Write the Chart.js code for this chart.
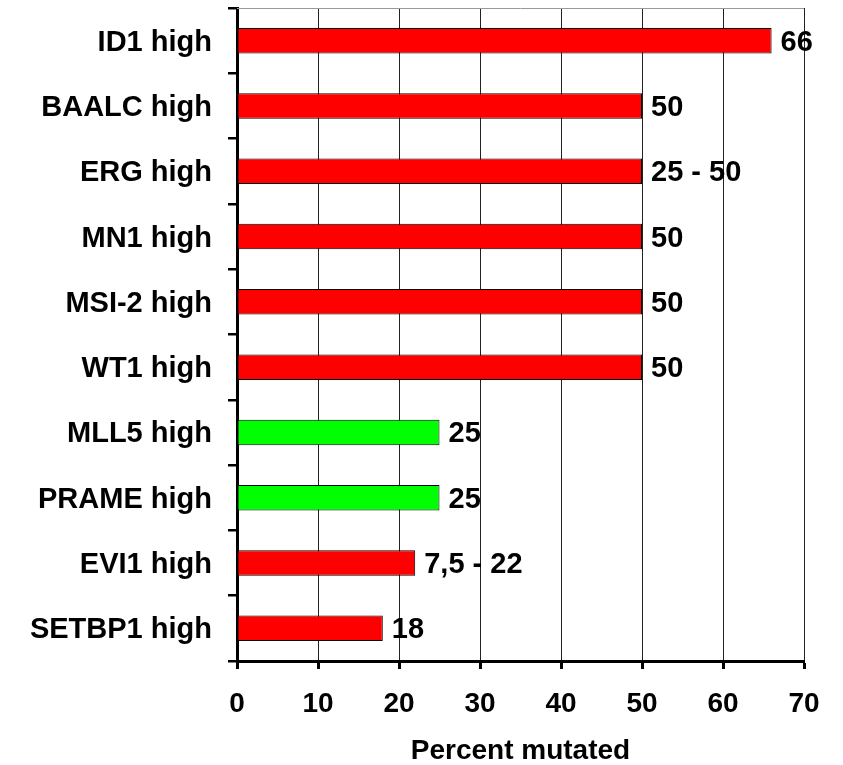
<!DOCTYPE html>
<html>
<head>
<meta charset="utf-8">
<script src="https://cdn.jsdelivr.net/npm/chart.js@4.4.0/dist/chart.umd.min.js"></script>
<style>
  html, body { margin: 0; padding: 0; background: #fff; }
  #wrap { width: 843px; height: 765px; }
</style>
</head>
<body>
<div id="wrap"><canvas id="mutchart"></canvas></div>
<script>
// categories, top to bottom
const labels = ['ID1 high', 'BAALC high', 'ERG high', 'MN1 high', 'MSI-2 high',
  'WT1 high', 'MLL5 high', 'PRAME high', 'EVI1 high', 'SETBP1 high'];
const percentMutated = [66, 50, 50, 50, 50, 50, 25, 25, 22, 18];
const valueLabels = ['66', '50', '25 - 50', '50', '50', '50', '25', '25', '7,5 - 22', '18'];
const barColors = ['#ff0000', '#ff0000', '#ff0000', '#ff0000', '#ff0000',
  '#ff0000', '#00ff00', '#00ff00', '#ff0000', '#ff0000'];

const fontFam = 'Arial, "Liberation Sans", sans-serif';

// writes the value text right of each bar, plus the thin top border
const barText = {
  id: 'barText',
  afterDatasetsDraw(chart) {
    const ctx = chart.ctx;
    const area = chart.chartArea;
    ctx.save();
    ctx.strokeStyle = '#999';
    ctx.lineWidth = 1;
    ctx.beginPath();
    ctx.moveTo(area.left, area.top + 0.5);
    ctx.lineTo(area.right, area.top + 0.5);
    ctx.stroke();
    ctx.font = 'bold 29px ' + fontFam;
    ctx.fillStyle = '#000';
    ctx.textBaseline = 'middle';
    ctx.textAlign = 'left';
    chart.getDatasetMeta(0).data.forEach(function (bar, i) {
      ctx.fillText(valueLabels[i], bar.x + 9, bar.y + 2);
    });
    ctx.restore();
  }
};

const data = {
  labels: labels,
  datasets: [{
    data: percentMutated,
    backgroundColor: barColors,
    borderColor: '#000',
    borderWidth: 1,
    borderSkipped: false,
    categoryPercentage: 1,
    barPercentage: 0.39
  }]
};

const config = {
  type: 'bar',
  data: data,
  options: {
    indexAxis: 'y',
    responsive: true,
    maintainAspectRatio: false,
    animation: false,
    layout: { padding: { top: 8, right: 39, left: 0, bottom: 0 } },
    plugins: {
      legend: { display: false },
      tooltip: { enabled: false }
    },
    scales: {
      x: {
        min: 0,
        max: 70,
        afterFit: function (s) { s.height = 104; },
        ticks: {
          stepSize: 10,
          color: '#000',
          padding: 18,
          font: { family: fontFam, size: 28, weight: 'bold' }
        },
        grid: {
          color: '#222',
          lineWidth: 1,
          tickColor: '#000',
          tickLength: 8,
          tickWidth: 3
        },
        border: { color: '#000', width: 3 },
        title: {
          display: true,
          text: 'Percent mutated',
          color: '#000',
          padding: { top: 0, bottom: 0 },
          font: { family: fontFam, size: 28, weight: 'bold', lineHeight: 1 }
        }
      },
      y: {
        afterFit: function (s) {
          s.width = 237;
          s.paddingTop = 0;
          s.paddingBottom = 0;
        },
        ticks: {
          color: '#000',
          padding: 16,
          labelOffset: 2,
          font: { family: fontFam, size: 29, weight: 'bold' }
        },
        grid: {
          offset: true,
          drawOnChartArea: false,
          color: '#000',
          tickLength: 9,
          lineWidth: 2.5
        },
        border: { color: '#000', width: 3 }
      }
    }
  },
  plugins: [barText]
};

const myChart = new Chart(document.getElementById('mutchart'), config);
</script>
</body>
</html>
